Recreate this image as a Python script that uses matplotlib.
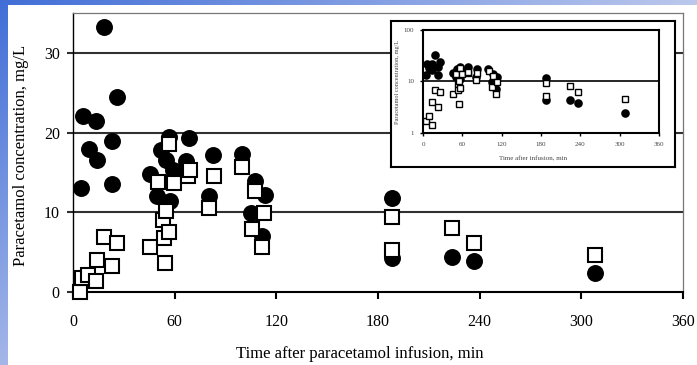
import numpy as np
import matplotlib
matplotlib.use("Agg")
import matplotlib.pyplot as plt

plt.rcParams['font.family'] = ['Liberation Serif', 'DejaVu Serif']

# filled circles
circ_t = [4.5, 5.7, 9.4, 13.6, 14.3, 18.5, 22.8, 23.2, 25.8,
          45.4, 49.6, 51.8, 54.9, 56.8, 57.2, 58.8, 66.8, 68.4,
          80.1, 82.4, 99.6, 104.8, 107.4, 111.8, 113.3,
          188.1, 188.1, 223.9, 236.7, 308.1]
circ_c = [13.1, 22.1, 18.0, 21.4, 16.5, 33.2, 18.9, 13.6, 24.4,
          14.8, 12.1, 17.8, 16.6, 19.5, 11.4, 15.3, 16.4, 19.3,
          12.1, 17.2, 17.3, 9.9, 13.9, 7.0, 12.2,
          11.8, 4.3, 4.4, 3.9, 2.4]

# open squares
sq_t = [4.1, 5.1, 9.0, 13.8, 14.3, 18.5, 22.8, 25.8,
        45.4, 50.0, 53.3, 53.5, 54.2, 55.0, 56.5, 56.8, 59.4, 67.9, 69.3,
        80.1, 83.0, 100.0, 105.8, 107.4, 111.4, 112.5,
        188.1, 188.1, 223.9, 236.7, 308.1]
sq_c = [0.0, 1.7, 2.1, 1.4, 4.0, 6.9, 3.2, 6.2,
        5.6, 13.8, 9.0, 6.8, 3.6, 10.1, 7.5, 18.6, 13.7, 14.6, 15.3,
        10.6, 14.5, 15.7, 7.9, 12.7, 5.6, 9.9,
        9.4, 5.3, 8.0, 6.2, 4.6]

x_ticks = [0, 60, 120, 180, 240, 300, 360]
W, H = 697, 365

fig = plt.figure(figsize=(W / 100, H / 100), dpi=100)

# blue gradient border on the left and top
bg = fig.add_axes([0, 0, 1, 1])
yy, xx = np.mgrid[0:H, 0:W]
t = np.clip(0.75 * xx / W + 0.6 * yy / H, 0, 1)[..., None]
c0 = np.array([65, 110, 215]) / 255
c1 = np.array([228, 230, 244]) / 255
img = c0 * (1 - t) + c1 * t
mask = (xx >= 8) & (yy >= 5)
img[mask] = 1.0
bg.imshow(img, extent=[0, W, H, 0], aspect='auto')
bg.set_axis_off()

# main plot
ax = fig.add_axes([73 / W, 1 - 292 / H, 610 / W, 279 / H])
ax.plot(circ_t, circ_c, 'o', color='black', ms=12.2, mew=0, clip_on=False, zorder=3)
ax.plot(sq_t, sq_c, 's', mfc='white', mec='black', ms=10.5, mew=1.5, clip_on=False, zorder=4)
ax.set_xlim(0, 360)
ax.set_ylim(0, 35)
ax.set_xticks(x_ticks)
ax.set_yticks([0, 10, 20, 30])
for v in [10, 20, 30]:
    ax.axhline(v, color='#303030', lw=1.5, zorder=1)
ax.tick_params(axis='y', direction='out', length=4.5, width=1.5, pad=5, labelsize=11.5, color='#303030')
ax.tick_params(axis='x', direction='out', length=5, width=1.5, pad=11, labelsize=11.5)
for s in ['top', 'right']:
    ax.spines[s].set_color('#777777')
    ax.spines[s].set_linewidth(0.9)
ax.spines['left'].set_linewidth(1.0)
ax.spines['bottom'].set_linewidth(1.5)

fig.text(21.5 / W, 1 - 155 / H, 'Paracetamol concentration, mg/L', rotation=90,
         ha='center', va='center', fontsize=12)
fig.text(360 / W, 1 - 354 / H, 'Time after paracetamol infusion, min',
         ha='center', va='center', fontsize=12)

# inset frame
frame = fig.add_axes([391 / W, 1 - 167 / H, 284 / W, 146 / H])
frame.set_xticks([])
frame.set_yticks([])
for s in frame.spines.values():
    s.set_linewidth(1.5)

# inset, log scale
ins = fig.add_axes([423 / W, 1 - 133 / H, 236 / W, 103 / H])
ct = np.array(circ_t); cc = np.array(circ_c)
st = np.array(sq_t); sc = np.array(sq_c)
ins.plot(ct, cc, 'o', color='black', ms=6.2, mew=0, zorder=3)
ins.plot(st[sc > 0], sc[sc > 0], 's', mfc='white', mec='black', ms=4.6, mew=1.0, zorder=4)
ins.set_yscale('log')
ins.set_ylim(1, 100)
ins.set_xlim(0, 360)
ins.set_xticks(x_ticks)
ins.set_yticks([1, 10, 100])
ins.set_yticklabels(['1', '10', '100'])
ins.minorticks_off()
ins.axhline(10, color='black', lw=1.2, zorder=1)
ins.tick_params(direction='out', length=2.5, width=1.0, pad=4, labelsize=5, labelcolor='#444444')
for s in ins.spines.values():
    s.set_linewidth(1.5)
fig.text(533 / W, 1 - 159 / H, 'Time after infusion, min', ha='center', va='center',
         fontsize=5, color='#444444')
fig.text(397 / W, 1 - 82 / H, 'Paracetamol concentration, mg/L', rotation=90,
         ha='center', va='center', fontsize=4.5, color='#444444')

fig.savefig('out.png', dpi=100)
